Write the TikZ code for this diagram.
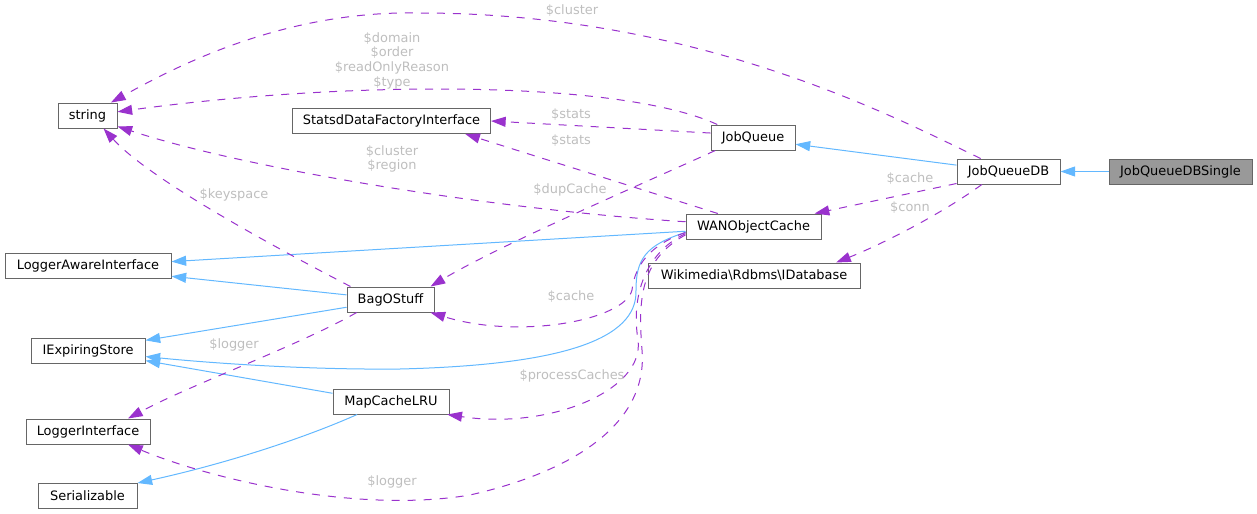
\documentclass[tikz,border=0pt]{standalone}
\usepackage{fontspec}
\setmainfont{DejaVu Sans}
\usetikzlibrary{arrows.meta}

\definecolor{edgeblue}{HTML}{63B8FF}
\definecolor{edgepurple}{HTML}{9A32CD}
\definecolor{boxgray}{HTML}{666666}
\definecolor{fillgray}{HTML}{999999}
\definecolor{labelgray}{HTML}{BEBEBE}

\tikzset{
  cls/.style={draw=boxgray, fill=white, line width=0.75pt, minimum height=18.75pt,
    inner sep=0pt, font=\fontsize{9.7}{11}\selectfont},
  inherit/.style={edgeblue, line width=0.75pt, -{Triangle[length=11pt,width=7.5pt]}},
  uses/.style={edgepurple, line width=0.75pt, dash pattern=on 6pt off 6pt,
    -{Triangle[length=11pt,width=7.5pt]}},
  lbl/.style={text=labelgray, font=\fontsize{9.7}{11}\selectfont, align=center, inner sep=0pt},
}

\begin{document}
\begin{tikzpicture}[x=0.75pt, y=-0.75pt]
    \useasboundingbox (0,0) rectangle (1257,514);

    % Classes
    \node[cls, minimum width=44.25pt] (str) at (87.5,115.5) {string};
    \node[cls, minimum width=148.5pt] (sdf) at (391.5,121) {StatsdDataFactoryInterface};
    \node[cls, minimum width=63pt] (jq) at (753,137.5) {JobQueue};
    \node[cls, minimum width=77.25pt] (jqdb) at (1008.5,171.5) {JobQueueDB};
    \node[cls, minimum width=107.25pt, fill=fillgray] (jqdbs) at (1180.5,171.5) {JobQueueDBSingle};
    \node[cls, minimum width=101.25pt] (wan) at (753.5,226.5) {WANObjectCache};
    \node[cls, minimum width=159pt] (idb) at (754,275.5) {Wikimedia\textbackslash Rdbms\textbackslash IDatabase};
    \node[cls, minimum width=124.5pt] (lai) at (88,266) {LoggerAwareInterface};
    \node[cls, minimum width=65.25pt] (bag) at (390.5,299.5) {BagOStuff};
    \node[cls, minimum width=85.5pt] (ies) at (88,350.5) {IExpiringStore};
    \node[cls, minimum width=87pt] (mcl) at (391,401.5) {MapCacheLRU};
    \node[cls, minimum width=93pt] (li) at (88,431.5) {LoggerInterface};
    \node[cls, minimum width=74.25pt] (ser) at (87.5,495.5) {Serializable};

    % Inheritance
    \draw[inherit] (jqdbs) -- (jqdb);
    \draw[inherit] (jqdb.173) -- (jq.-9);
    \draw[inherit] (wan.184) -- (lai.3);
    \draw[inherit] (bag.174) -- (lai.-7.5);
    \draw[inherit] (bag.190) -- (ies.10);
    \draw[inherit] (wan.185) .. controls (645,245) and (636,260) .. (636,290)
        .. controls (638,340) and (560,365) .. (400,369)
        .. controls (300,370) and (200,362) .. (ies.-6.5);
    \draw[inherit] (mcl.172) -- (ies.-10);
    \draw[inherit] (mcl.201) .. controls (300,440) and (220,465) .. (ser.14);

    % Members
    \draw[uses] (jqdb.155) .. controls (900,120) and (700,13) .. (420,13)
        .. controls (280,10) and (170,70) .. (str.29);
    \draw[uses] (jq.160) .. controls (620,80) and (350,80) .. (str.7);
    \draw[uses] (jq.174) -- (sdf.east);
    \draw[uses] (jq.199) .. controls (640,185) and (500,245) .. (bag.18);
    \draw[uses] (wan.160) -- (sdf.-10);
    \draw[uses] (wan.176) .. controls (500,210) and (250,170) .. (str.-20);
    \draw[uses] (jqdb.193) -- (wan.12);
    \draw[uses] (jqdb.206) .. controls (940,215) and (880,245) .. (idb.9.5);
    \draw[uses] (wan.185) .. controls (650,245) and (635,265) .. (632,290)
        .. controls (625,320) and (520,340) .. (bag.-18);
    \draw[uses] (wan.186) .. controls (650,250) and (630,290) .. (638,340)
        .. controls (645,390) and (550,430) .. (mcl.-13);
    \draw[uses] (wan.187) .. controls (640,260) and (638,300) .. (642,350)
        .. controls (648,420) and (580,470) .. (470,495)
        .. controls (350,515) and (200,475) .. (li.-18);
    \draw[uses] (bag.162) .. controls (280,250) and (150,180) .. (str.-39);
    \draw[uses] (bag.201) .. controls (300,345) and (190,385) .. (li.18);

    % Labels
    \node[lbl] (l-cluster) at (572,11) {\$cluster};
    \node[lbl] (l-domain) at (392,60.5) {\$domain\\\$order\\\$readOnlyReason\\\$type};
    \node[lbl] (l-stats-jq) at (571,115) {\$stats};
    \node[lbl] (l-stats-wan) at (571,141) {\$stats};
    \node[lbl] (l-region) at (392,159) {\$cluster\\\$region};
    \node[lbl] (l-dupcache) at (570,190) {\$dupCache};
    \node[lbl] (l-keyspace) at (234,195) {\$keyspace};
    \node[lbl] (l-cache-db) at (910,179) {\$cache};
    \node[lbl] (l-conn) at (910,208) {\$conn};
    \node[lbl] (l-cache-wan) at (571,297) {\$cache};
    \node[lbl] (l-logger-bag) at (234,345) {\$logger};
    \node[lbl] (l-process) at (572,376) {\$processCaches};
    \node[lbl] (l-logger-wan) at (392,482) {\$logger};
\end{tikzpicture}
\end{document}
